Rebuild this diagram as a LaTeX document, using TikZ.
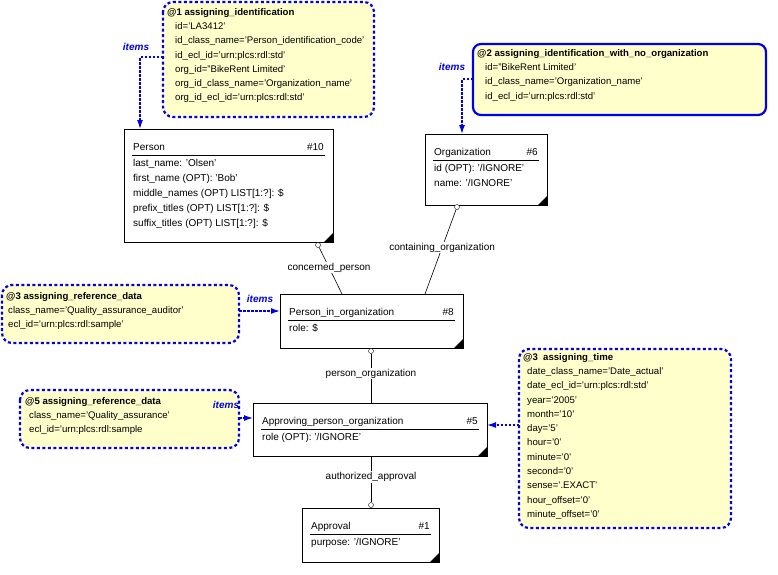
\documentclass[tikz,border=0pt]{standalone}
\usepackage{fontspec}
\setmainfont{Liberation Sans}
\usetikzlibrary{arrows.meta}
\definecolor{noteY}{RGB}{255,255,204}
\definecolor{nblue}{RGB}{0,0,230}
\tikzset{
  note/.style={draw=nblue,line width=2.2pt,dash pattern=on 3pt off 2.5pt,rounded corners=10pt,fill=noteY},
  notesolid/.style={draw=nblue,line width=2.2pt,rounded corners=8pt,fill=noteY},
  ent/.style={draw,line width=0.7pt,fill=white},
  ref/.style={nblue,line width=1.3pt,dash pattern=on 2.5pt off 1.5pt,-{Latex[length=9pt,width=6pt]}},
  rel/.style={line width=0.6pt},
  lbl/.style={font=\fontsize{10}{12}\selectfont,inner sep=1pt,fill=white},
  itm/.style={font=\fontsize{10}{12}\selectfont\bfseries\itshape,text=nblue,inner sep=1pt},
  tx/.style={font=\fontsize{9.6}{14.3}\selectfont,align=left,anchor=north west,inner sep=0pt},
  etx/.style={font=\fontsize{10}{15}\selectfont,align=left,anchor=north west,inner sep=0pt},
  circ/.style={circle,draw,fill=white,inner sep=0pt,minimum size=5pt}
}
\newcommand{\entity}[7]{%
  \draw[ent] (#2,#3) rectangle (#4,#5);
  \fill (#4,#5) -- (#4-9,#5) -- (#4,#5-9) -- cycle;
  \node[etx,anchor=base west] at (#2+9,#3+21) {#6};
  \node[etx,anchor=base east] at (#4-9,#3+21) {#7};
  \draw (#2+8,#3+26) -- (#4-8,#3+26);
  \coordinate (#1) at (#2,#3);
}
\begin{document}
\begin{tikzpicture}[x=1pt,y=-1pt]
\useasboundingbox (0,0) rectangle (778,574);
% entities
\entity{per}{124}{129}{333}{242}{Person}{\#10}
\node[etx] at (133,159) {last\_name: 'Olsen'\\first\_name (OPT): 'Bob'\\middle\_names (OPT) LIST[1:?]: \$\\prefix\_titles (OPT) LIST[1:?]: \$\\suffix\_titles (OPT) LIST[1:?]: \$};
\entity{org}{425}{134}{547}{205}{Organization}{\#6}
\node[etx] at (434,164) {id (OPT): '/IGNORE'\\name: '/IGNORE'};
\entity{pio}{280}{294}{463}{348}{Person\_in\_organization}{\#8}
\node[etx] at (289,324) {role: \$};
\entity{apo}{253}{403}{487}{456}{Approving\_person\_organization}{\#5}
\node[etx] at (262,433) {role (OPT): '/IGNORE'};
\entity{apr}{302}{508}{439}{562}{Approval}{\#1}
\node[etx] at (311,538) {purpose: '/IGNORE'};
% notes
\draw[note] (163,2) rectangle (374,117);
\node[tx] at (167,8) {\textbf{@1 assigning\_identification}\\\hspace*{8pt}id='LA3412'\\\hspace*{8pt}id\_class\_name='Person\_identification\_code'\\\hspace*{8pt}id\_ecl\_id='urn:plcs:rdl:std'\\\hspace*{8pt}org\_id="BikeRent Limited'\\\hspace*{8pt}org\_id\_class\_name='Organization\_name'\\\hspace*{8pt}org\_id\_ecl\_id='urn:plcs:rdl:std'};
\draw[notesolid] (473,44) rectangle (766,115);
\node[tx] at (477,49) {\textbf{@2 assigning\_identification\_with\_no\_organization}\\\hspace*{8pt}id="BikeRent Limited'\\\hspace*{8pt}id\_class\_name='Organization\_name'\\\hspace*{8pt}id\_ecl\_id='urn:plcs:rdl:std'};
\draw[note] (2,285) rectangle (239,343);
\node[tx] at (6,292) {\textbf{@3 assigning\_reference\_data}\\\hspace*{2pt}class\_name='Quality\_assurance\_auditor'\\\hspace*{2pt}ecl\_id='urn:plcs:rdl:sample'};
\draw[note] (20,390) rectangle (239,448);
\node[tx] at (25,397) {\textbf{@5 assigning\_reference\_data}\\\hspace*{4pt}class\_name='Quality\_assurance'\\\hspace*{4pt}ecl\_id='urn:plcs:rdl:sample};
\draw[note] (519,349) rectangle (731,528);
\node[tx] at (523,353) {\textbf{@3\ \ assigning\_time}\\\hspace*{4pt}date\_class\_name='Date\_actual'\\\hspace*{4pt}date\_ecl\_id='urn:plcs:rdl:std'\\\hspace*{4pt}year='2005'\\\hspace*{4pt}month='10'\\\hspace*{4pt}day='5'\\\hspace*{4pt}hour='0'\\\hspace*{4pt}minute='0'\\\hspace*{4pt}second='0'\\\hspace*{4pt}sense='.EXACT'\\\hspace*{4pt}hour\_offset='0'\\\hspace*{4pt}minute\_offset='0'};
% references
\coordinate (n1) at (163,57); \coordinate (t1) at (140,129);
\draw[ref] (n1) -| (t1);
\node[itm] at (136,47) {items};
\coordinate (n2) at (473,79); \coordinate (t2) at (462,134);
\draw[ref] (n2) -| (t2);
\node[itm] at (452,67) {items};
\coordinate (n3) at (239,311); \coordinate (t3) at (280,311);
\draw[ref] (n3) -- (t3);
\node[itm] at (260,299) {items};
\coordinate (n5) at (239,418); \coordinate (t5) at (253,418);
\draw[ref] (n5) -- (t5);
\node[itm] at (226,405) {items};
\coordinate (n6) at (519,425); \coordinate (t6) at (487,425);
\draw[ref] (n6) -- (t6);
% relations
\node[circ] (c1) at (318,245) {};
\coordinate (e1) at (342,294);
\draw[rel] (c1) -- (e1) node[lbl,pos=0.43] {concerned\_person};
\node[circ] (c2) at (457,207) {};
\coordinate (e2) at (425,294);
\draw[rel] (c2) -- (e2) node[lbl,pos=0.45] {containing\_organization};
\node[circ] (c3) at (371,351) {};
\coordinate (e3) at (371,403);
\draw[rel] (c3) -- (e3) node[lbl,pos=0.4] {person\_organization};
\node[circ] (c4) at (371,505) {};
\coordinate (e4) at (371,456);
\draw[rel] (c4) -- (e4) node[lbl,pos=0.55] {authorized\_approval};
\end{tikzpicture}
\end{document}
